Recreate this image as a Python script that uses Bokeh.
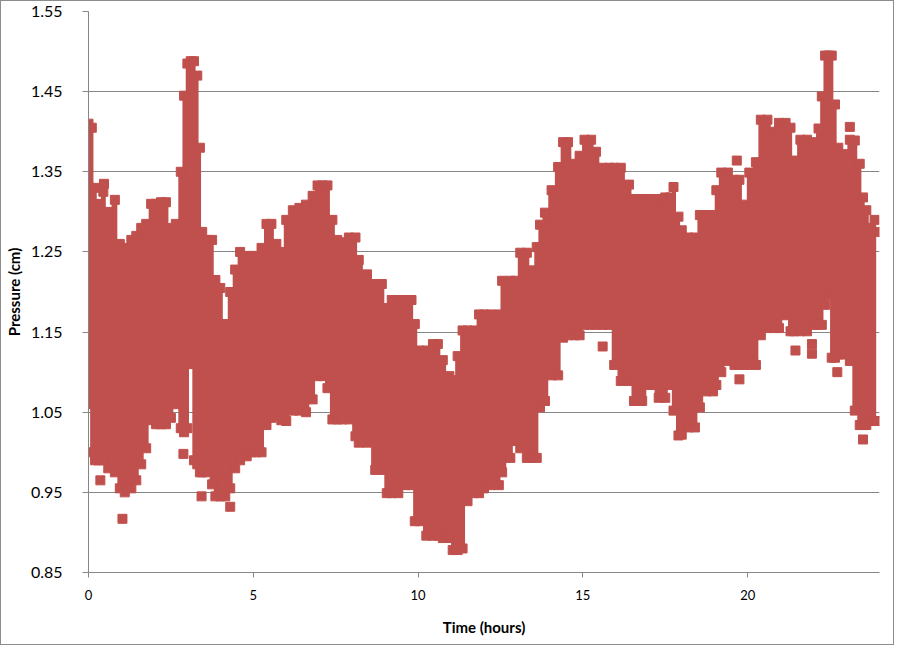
from bokeh.plotting import figure
from bokeh.models import FixedTicker, ColumnDataSource, Range1d, InlineStyleSheet
from bokeh.embed import file_html
from bokeh.resources import INLINE

# Envelope of the dense pressure trace (hours, cm)
time_h = [
    0.00, 0.10, 0.20, 0.30, 0.45, 0.60, 0.80, 0.95, 1.10, 1.30,
    1.45, 1.60, 1.75, 1.90, 2.05, 2.20, 2.35, 2.50, 2.65, 2.80,
    2.90, 3.00, 3.10, 3.20, 3.30, 3.38, 3.45, 3.60, 3.75, 3.85, 4.00, 4.15,
    4.30, 4.45, 4.60, 4.80, 4.95, 5.10, 5.25, 5.40, 5.55, 5.70,
    5.85, 6.00, 6.20, 6.40, 6.60, 6.80, 6.95, 7.10, 7.25,
    7.40, 7.55, 7.70, 7.90, 8.10, 8.20, 8.45, 8.70, 8.90,
    9.05, 9.20, 9.40, 9.60, 9.80, 9.90, 10.05, 10.25, 10.45, 10.60,
    10.75, 10.95, 11.05, 11.20, 11.35, 11.50, 11.70, 11.85, 12.00, 12.20, 12.45,
    12.55, 12.80, 12.95, 13.10, 13.30, 13.45, 13.60, 13.70, 13.85, 14.05,
    14.25, 14.40, 14.55, 14.75, 14.90, 15.05, 15.25, 15.40, 15.60, 15.80,
    15.95, 16.15, 16.40, 16.55, 16.80, 17.05, 17.30, 17.50, 17.65, 17.75, 17.90,
    18.00, 18.20, 18.40, 18.55, 18.75, 18.95, 19.05, 19.20, 19.40, 19.60,
    19.75, 19.90, 20.05, 20.25, 20.40, 20.60, 20.80, 20.95, 21.15, 21.30,
    21.40, 21.60, 21.80, 22.00, 22.15, 22.25, 22.35, 22.45, 22.55, 22.65, 22.75,
    22.95, 23.10, 23.25, 23.40, 23.50, 23.60, 23.75, 23.90,
]
upper_cm = [
    1.410, 1.405, 1.330, 1.310, 1.325, 1.300, 1.315, 1.260, 1.255, 1.265,
    1.270, 1.280, 1.285, 1.310, 1.310, 1.312, 1.312, 1.280, 1.285, 1.350,
    1.445, 1.485, 1.488, 1.488, 1.470, 1.380, 1.275, 1.265, 1.265, 1.215, 1.205, 1.160,
    1.200, 1.228, 1.250, 1.245, 1.245, 1.245, 1.255, 1.285, 1.285, 1.260,
    1.250, 1.290, 1.302, 1.305, 1.309, 1.320, 1.333, 1.333, 1.333,
    1.290, 1.265, 1.262, 1.268, 1.268, 1.240, 1.222, 1.210, 1.210,
    1.180, 1.190, 1.190, 1.190, 1.190, 1.160, 1.127, 1.127, 1.135, 1.135,
    1.115, 1.095, 1.090, 1.120, 1.152, 1.152, 1.152, 1.172, 1.172, 1.172, 1.172,
    1.214, 1.214, 1.214, 1.249, 1.249, 1.227, 1.256, 1.284, 1.299, 1.327,
    1.356, 1.387, 1.387, 1.360, 1.370, 1.390, 1.390, 1.375, 1.355, 1.355,
    1.355, 1.355, 1.334, 1.316, 1.316, 1.316, 1.316, 1.318, 1.318, 1.331, 1.294,
    1.277, 1.268, 1.268, 1.296, 1.296, 1.296, 1.327, 1.349, 1.349, 1.340,
    1.340, 1.309, 1.349, 1.362, 1.415, 1.415, 1.400, 1.411, 1.411, 1.405,
    1.364, 1.390, 1.390, 1.387, 1.404, 1.444, 1.495, 1.495, 1.495, 1.434, 1.380,
    1.372, 1.390, 1.389, 1.360, 1.318, 1.302, 1.280, 1.275,
]
lower_cm = [
    1.060, 1.000, 0.990, 0.990, 0.990, 0.980, 0.975, 0.955, 0.950, 0.955,
    0.965, 0.985, 1.005, 1.040, 1.035, 1.035, 1.035, 1.043, 1.060, 1.030,
    1.025, 1.030, 1.110, 0.990, 0.985, 0.975, 0.975, 0.975, 0.960, 0.945, 0.945, 0.945,
    0.955, 0.980, 0.990, 0.995, 1.000, 1.000, 1.000, 1.034, 1.043, 1.045,
    1.040, 1.039, 1.052, 1.052, 1.050, 1.066, 1.095, 1.095, 1.080,
    1.041, 1.041, 1.041, 1.041, 1.020, 1.012, 1.012, 0.978, 0.978,
    0.949, 0.949, 0.949, 0.959, 0.959, 0.914, 0.914, 0.896, 0.896, 0.896,
    0.893, 0.893, 0.878, 0.878, 0.880, 0.939, 0.949, 0.949, 0.955, 0.959, 0.959,
    0.975, 0.993, 1.014, 1.005, 0.993, 0.993, 0.993, 1.056, 1.064, 1.096,
    1.096, 1.143, 1.146, 1.146, 1.146, 1.159, 1.159, 1.159, 1.159, 1.159,
    1.109, 1.089, 1.089, 1.064, 1.064, 1.084, 1.068, 1.068, 1.084, 1.052, 1.021,
    1.022, 1.031, 1.031, 1.056, 1.076, 1.076, 1.084, 1.100, 1.114, 1.109,
    1.109, 1.109, 1.109, 1.109, 1.146, 1.155, 1.155, 1.155, 1.171, 1.151,
    1.151, 1.151, 1.151, 1.159, 1.159, 1.159, 1.184, 1.196, 1.118, 1.118, 1.122,
    1.122, 1.114, 1.052, 1.034, 1.034, 1.034, 1.039, 1.039,
]

# Isolated readings outside the main band
outlier_h = [0.36, 0.47, 1.03, 2.88, 3.43, 4.30, 15.60, 19.67, 19.75, 21.45,
             21.95, 21.95, 22.72, 23.10, 23.50, 23.85]
outlier_cm = [0.965, 1.335, 0.917, 0.998, 0.945, 0.932, 1.132, 1.364, 1.091, 1.127,
              1.135, 1.123, 1.100, 1.406, 1.016, 1.290]

y_ticks = [0.85, 0.95, 1.05, 1.15, 1.25, 1.35, 1.45, 1.55]
x_ticks = [0, 5, 10, 15, 20]

RED = "#C0504D"
GRID = "#868686"

p = figure(width=894, height=645, output_backend="svg", toolbar_location=None,
           x_range=Range1d(0, 24), y_range=Range1d(0.85, 1.55),
           min_border_left=87, min_border_right=16, min_border_top=10,
           min_border_bottom=74)
p.stylesheets = [InlineStyleSheet(css=":host { border: 1px solid #8c8c8c; }")]

src = ColumnDataSource(dict(t=time_h, hi=upper_cm, lo=lower_cm))
p.varea_step(x="t", y1="lo", y2="hi", source=src, step_mode="center",
             fill_color=RED, fill_alpha=1.0)
p.scatter(x="t", y="hi", source=src, marker="square", size=9,
          fill_color=RED, line_color=RED)
p.scatter(x="t", y="lo", source=src, marker="square", size=9,
          fill_color=RED, line_color=RED)
p.scatter(x=outlier_h, y=outlier_cm, marker="square", size=9,
          fill_color=RED, line_color=RED)

p.outline_line_color = None
p.background_fill_color = "white"
p.border_fill_color = "white"
p.xgrid.visible = False
p.ygrid.grid_line_color = GRID
p.ygrid.grid_line_width = 1

yax = p.yaxis[0]
yax.ticker = FixedTicker(ticks=y_ticks)
yax.major_label_overrides = {v: f"{v:.2f}" for v in y_ticks}
yax.axis_line_color = GRID
yax.major_tick_line_color = GRID
yax.major_tick_out = 6
yax.major_tick_in = 0
yax.minor_tick_line_color = None
yax.major_label_text_font = "Lato"
yax.major_label_text_font_size = "16px"
yax.major_label_text_color = "black"
yax.major_label_standoff = 20
yax.axis_label = "Pressure (cm)"
yax.axis_label_text_font = "Lato"
yax.axis_label_text_font_style = "bold"
yax.axis_label_text_font_size = "15px"
yax.axis_label_text_color = "black"
yax.axis_label_standoff = 5

xax = p.xaxis[0]
xax.ticker = FixedTicker(ticks=x_ticks)
xax.axis_line_color = GRID
xax.major_tick_line_color = GRID
xax.major_tick_out = 5
xax.major_tick_in = 0
xax.minor_tick_line_color = None
xax.major_label_text_font = "Lato"
xax.major_label_text_font_size = "13px"
xax.major_label_text_color = "black"
xax.major_label_standoff = 12
xax.axis_label = "Time (hours)"
xax.axis_label_text_font = "Lato"
xax.axis_label_text_font_style = "bold"
xax.axis_label_text_font_size = "15px"
xax.axis_label_text_color = "black"
xax.axis_label_standoff = 15

open("out.html", "w").write(file_html(p, INLINE))
